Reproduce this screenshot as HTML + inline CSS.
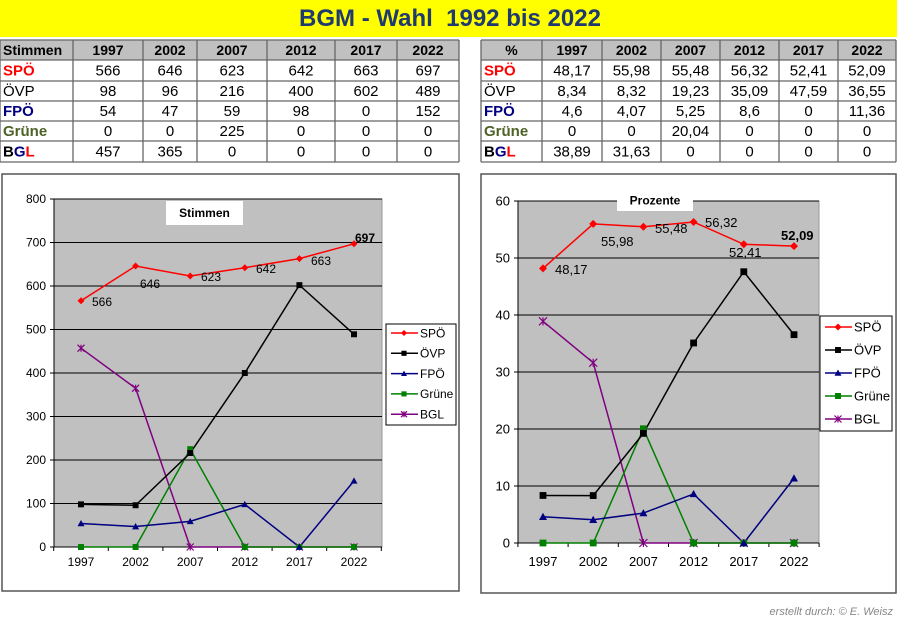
<!DOCTYPE html>
<html><head><meta charset="utf-8">
<style>
html,body{margin:0;padding:0;background:#fff;width:900px;height:622px;overflow:hidden}
svg{display:block;font-family:"Liberation Sans",Arial,sans-serif}
</style></head>
<body>
<svg id="s" width="900" height="622" viewBox="0 0 900 622" xmlns="http://www.w3.org/2000/svg">
<rect x="0" y="0" width="897" height="37" fill="#ffff00"/>
<text x="450" y="26" text-anchor="middle" font-size="24" font-weight="bold" fill="#1f3a6e" xml:space="preserve">BGM - Wahl  1992 bis 2022</text>
<g id="g"></g>
<text x="893" y="615" text-anchor="end" font-size="11" font-style="italic" fill="#888">erstellt durch: © E. Weisz</text>
</svg>
<script>
const NS="http://www.w3.org/2000/svg",G=document.getElementById('g');
function el(t,a,txt){const e=document.createElementNS(NS,t);for(const k in a)e.setAttribute(k,a[k]);if(txt!==undefined)e.textContent=txt;G.appendChild(e);return e;}
function table(cols,rows,data,hdr){
  el('rect',{x:cols[0],y:rows[0],width:cols[cols.length-1]-cols[0],height:rows[1]-rows[0],fill:'#c0c0c0'});
  for(let r=0;r<data.length;r++){for(let c=0;c<data[r].length;c++){
    const cell=data[r][c];const cx=(cols[c]+cols[c+1])/2,cy=(rows[r]+rows[r+1])/2+5;
    if(c==0){
      const t=el('text',{x:cols[0]+3,y:cy,'font-size':15,'font-weight':(r==2&&c==0)?'normal':'bold'});
      if(r==0){t.setAttribute('x',hdr?cols[0]+3:cx);if(!hdr)t.setAttribute('text-anchor','middle');t.setAttribute('font-size',14);t.textContent=cell;}
      else if(r==1){t.setAttribute('fill','#ff0000');t.textContent='SPÖ';}
      else if(r==2){t.textContent='ÖVP';}
      else if(r==3){t.setAttribute('fill','#000080');t.textContent='FPÖ';}
      else if(r==4){t.setAttribute('fill','#4f6228');t.textContent='Grüne';}
      else {const a=document.createElementNS(NS,'tspan');a.textContent='B';t.appendChild(a);const b=document.createElementNS(NS,'tspan');b.setAttribute('fill','#000080');b.textContent='G';t.appendChild(b);const d=document.createElementNS(NS,'tspan');d.setAttribute('fill','#ff0000');d.textContent='L';t.appendChild(d);}
    } else el('text',{x:cx,y:cy,'text-anchor':'middle','font-size':r==0?14:15,'font-weight':r==0?'bold':'normal'},cell);
  }}
  for(const x of cols)el('line',{x1:x,x2:x,y1:rows[0],y2:rows[rows.length-1],stroke:'#666','stroke-width':1.3});
  for(const y of rows)el('line',{x1:cols[0],x2:cols[cols.length-1],y1:y,y2:y,stroke:'#666','stroke-width':1.3});
}
const rows=[40,60,81,101,121,141,162];
table([0,73,143,197,267,335,397,459],rows,[
['Stimmen','1997','2002','2007','2012','2017','2022'],
['','566','646','623','642','663','697'],['','98','96','216','400','602','489'],
['','54','47','59','98','0','152'],['','0','0','225','0','0','0'],['','457','365','0','0','0','0']],true);
table([481,542,602,661,720,779,838,896],rows,[
['%','1997','2002','2007','2012','2017','2022'],
['','48,17','55,98','55,48','56,32','52,41','52,09'],['','8,34','8,32','19,23','35,09','47,59','36,55'],
['','4,6','4,07','5,25','8,6','0','11,36'],['','0','0','20,04','0','0','0'],['','38,89','31,63','0','0','0','0']],false);

const cols={SPÖ:'#ff0000',ÖVP:'#000000',FPÖ:'#000080',Grüne:'#008000',BGL:'#800080'};
function marker(k,x,y,s){
  const c=cols[k];
  if(k=='SPÖ')el('polygon',{points:`${x},${y-s} ${x+s},${y} ${x},${y+s} ${x-s},${y}`,fill:c});
  else if(k=='ÖVP'||k=='Grüne')el('rect',{x:x-s*0.85,y:y-s*0.85,width:s*1.7,height:s*1.7,fill:c});
  else if(k=='FPÖ')el('polygon',{points:`${x},${y-s} ${x+s},${y+s*0.8} ${x-s},${y+s*0.8}`,fill:c});
  else{el('path',{d:`M${x-s} ${y-s}L${x+s} ${y+s}M${x-s} ${y+s}L${x+s} ${y-s}M${x} ${y-s}L${x} ${y+s}`,stroke:c,'stroke-width':1.2,fill:'none'});}
}
function chart(o){
  el('rect',{x:o.box[0],y:o.box[1],width:o.box[2]-o.box[0],height:o.box[3]-o.box[1],fill:'#fff',stroke:'#555','stroke-width':1.5});
  const Y=v=>o.y0-v*(o.y0-o.y1)/o.max;
  el('rect',{x:o.x0,y:o.y1,width:o.x1-o.x0,height:o.y0-o.y1,fill:'#c0c0c0',stroke:'#999'});
  for(let v=0;v<=o.max;v+=o.step){const y=Y(v);el('line',{x1:o.x0-4,x2:o.x1,y1:y,y2:y,stroke:'#000','stroke-width':1});
    el('text',{x:o.x0-8,y:y+o.fs*0.35,'text-anchor':'end','font-size':o.fs},String(v));}
  el('line',{x1:o.x0,x2:o.x0,y1:o.y1,y2:o.y0,stroke:'#000'});
  const X=i=>o.c0+o.dx*i;
  for(let i=0;i<=6;i++){const x=o.c0-o.dx/2+o.dx*i;el('line',{x1:x,x2:x,y1:o.y0,y2:o.y0+4,stroke:'#000'});}
  ['1997','2002','2007','2012','2017','2022'].forEach((t,i)=>el('text',{x:X(i),y:o.xl,'text-anchor':'middle','font-size':o.fs},t));
  el('rect',{x:o.tb[0],y:o.tb[1],width:o.tb[2],height:o.tb[3],fill:'#fff'});
  el('text',{x:o.tb[0]+o.tb[2]/2,y:o.tb[1]+o.tb[3]/2+4,'text-anchor':'middle','font-size':12,'font-weight':'bold'},o.title);
  const order=['BGL','Grüne','FPÖ','ÖVP','SPÖ'];
  for(const k of order){const d=o.data[k];el('polyline',{points:d.map((v,i)=>X(i)+','+Y(v)).join(' '),fill:'none',stroke:cols[k],'stroke-width':1.5});}
  for(const k of order){o.data[k].forEach((v,i)=>marker(k,X(i),Y(v),o.ms));}
  o.labels.forEach(l=>el('text',{x:l[0],y:l[1],'font-size':o.lfs,'font-weight':l[3]?'bold':'normal'},l[2]));
  const L=o.leg;el('rect',{x:L[0],y:L[1],width:L[2]-L[0],height:L[3]-L[1],fill:'#fff',stroke:'#000'});
  ['SPÖ','ÖVP','FPÖ','Grüne','BGL'].forEach((k,i)=>{const y=L[4]+L[5]*i;el('line',{x1:L[0]+5,x2:L[0]+32,y1:y,y2:y,stroke:cols[k],'stroke-width':1.5});marker(k,L[0]+18,y,o.ms-0.5);
    el('text',{x:L[0]+34,y:y+o.lgfs*0.36,'font-size':o.lgfs},k);});
}
chart({box:[2,174,459,591],x0:54,x1:382,y0:547,y1:199,max:800,step:100,c0:81,dx:54.6,fs:12,xl:566,
 tb:[166,201,77,24],title:'Stimmen',ms:3.5,lfs:12,lgfs:12,leg:[386,324,456,425,333,20.3],
 data:{SPÖ:[566,646,623,642,663,697],ÖVP:[98,96,216,400,602,489],FPÖ:[54,47,59,98,0,152],Grüne:[0,0,225,0,0,0],BGL:[457,365,0,0,0,0]},
 labels:[[92,306,'566'],[140,288,'646'],[201,281,'623'],[256,273,'642'],[311,265,'663'],[355,242,'697',1]]});
chart({box:[481,174,896,593],x0:518,x1:819,y0:543,y1:201,max:60,step:10,c0:543,dx:50.2,fs:13,xl:566,
 tb:[617,190,76,21],title:'Prozente',ms:4,lfs:13,lgfs:13,leg:[820,316,892,431,327,23],
 data:{SPÖ:[48.17,55.98,55.48,56.32,52.41,52.09],ÖVP:[8.34,8.32,19.23,35.09,47.59,36.55],FPÖ:[4.6,4.07,5.25,8.6,0,11.36],Grüne:[0,0,20.04,0,0,0],BGL:[38.89,31.63,0,0,0,0]},
 labels:[[555,274,'48,17'],[601,246,'55,98'],[655,233,'55,48'],[705,227,'56,32'],[729,257,'52,41'],[781,240,'52,09',1]]});
</script>
</body></html>
